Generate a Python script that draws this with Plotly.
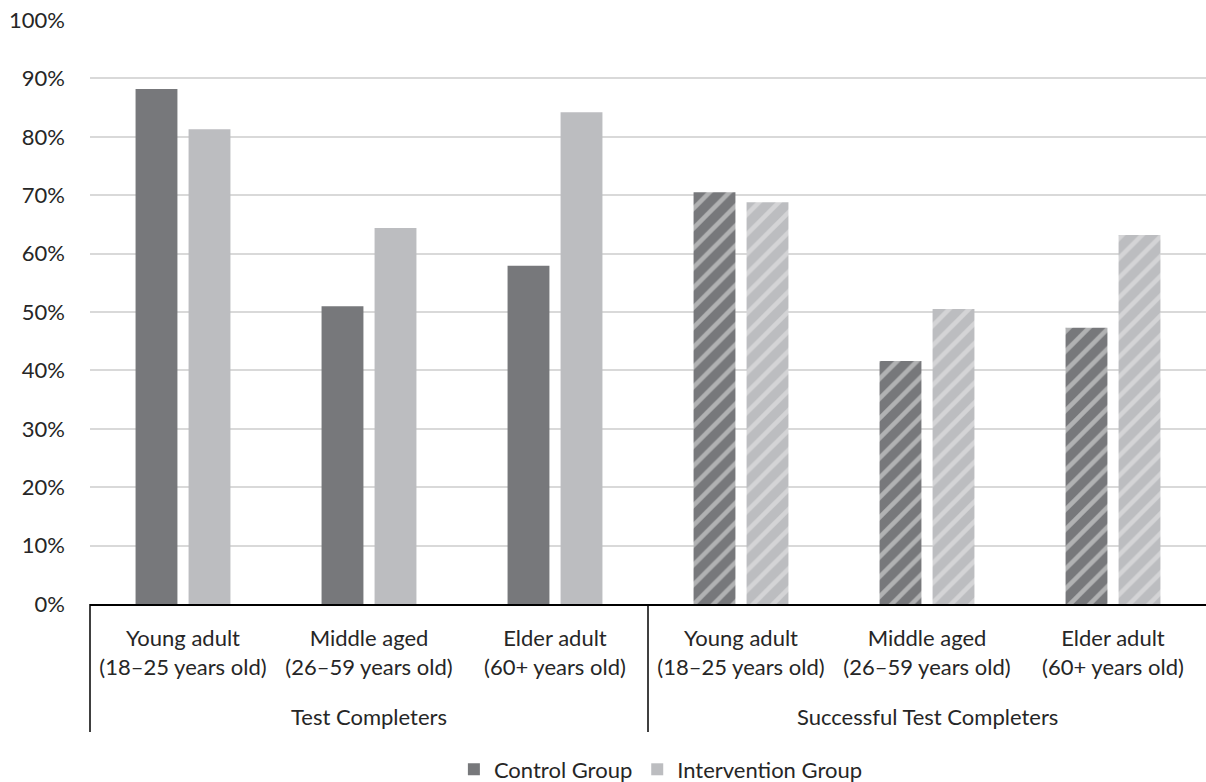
import plotly.graph_objects as go

# Study outcome groups and age bands
group_names = ["Test Completers", "Successful Test Completers"]
age_bands = [
    "Young adult<br>(18–25 years old)",
    "Middle aged<br>(26–59 years old)",
    "Elder adult<br>(60+ years old)",
]
tick_labels = age_bands * 2
positions = [0, 1, 2, 3, 4, 5]

# Share of participants (fraction)
control_values = [0.882, 0.510, 0.579, 0.705, 0.416, 0.473]
intervention_values = [0.813, 0.644, 0.842, 0.688, 0.505, 0.632]

# Successful completers are drawn hatched
hatch = ["", "", "", "/", "/", "/"]

FONT = "Lato, Carlito, Calibri, sans-serif"
TEXT = "#262626"
CONTROL_COLOR = "#77787b"
INTERVENTION_COLOR = "#bcbdc0"
STRIPE = "#ebebeb"


def bar_marker(color):
    return dict(
        color=color,
        line=dict(width=0),
        pattern=dict(shape=hatch, fillmode="overlay", fgcolor=STRIPE,
                     size=14, solidity=0.32),
    )


fig = go.Figure()
fig.add_trace(go.Bar(name="Control Group", x=positions, y=control_values,
                     marker=bar_marker(CONTROL_COLOR)))
fig.add_trace(go.Bar(name="Intervention Group", x=positions, y=intervention_values,
                     marker=bar_marker(INTERVENTION_COLOR)))

fig.update_layout(
    width=1206,
    height=782,
    margin=dict(l=90, r=0, t=20, b=178, autoexpand=False),
    paper_bgcolor="white",
    plot_bgcolor="white",
    barmode="group",
    bargap=0.43,
    bargroupgap=0.21,
    font=dict(family=FONT, size=22, color=TEXT),
    showlegend=True,
    legend=dict(
        orientation="h",
        x=0.548,
        xanchor="center",
        xref="container",
        y=0.016,
        yanchor="middle",
        yref="container",
        font=dict(family=FONT, size=22, color=TEXT),
        traceorder="normal",
        itemwidth=30,
    ),
)

fig.update_yaxes(
    range=[0, 1],
    dtick=0.1,
    tickformat=".0%",
    showgrid=True,
    gridcolor="#d9d9d9",
    gridwidth=2,
    zeroline=False,
    showline=False,
    ticks="",
    ticklabelstandoff=24,
    tickfont=dict(family=FONT, size=22, color=TEXT),
)

fig.update_xaxes(
    range=[-0.5, 5.5],
    tickmode="array",
    tickvals=positions,
    ticktext=tick_labels,
    showline=True,
    linecolor="#000000",
    linewidth=1.5,
    showgrid=False,
    zeroline=False,
    ticks="",
    ticklabelstandoff=14,
    automargin=False,
    tickfont=dict(family=FONT, size=22, color=TEXT),
)

# Group labels under the age bands
for i, name in enumerate(group_names):
    fig.add_annotation(
        x=positions[3 * i + 1], xref="x",
        y=-0.192, yref="paper",
        text=name, showarrow=False,
        xanchor="center", yanchor="middle",
        font=dict(family=FONT, size=22, color=TEXT),
    )

# Vertical dividers separating the two groups
for xp in (0.0, 0.5):
    fig.add_shape(
        type="line", xref="paper", yref="paper",
        x0=xp, x1=xp, y0=0, y1=-0.219,
        line=dict(color="#000000", width=1.5),
    )

fig.write_html("out.html")
